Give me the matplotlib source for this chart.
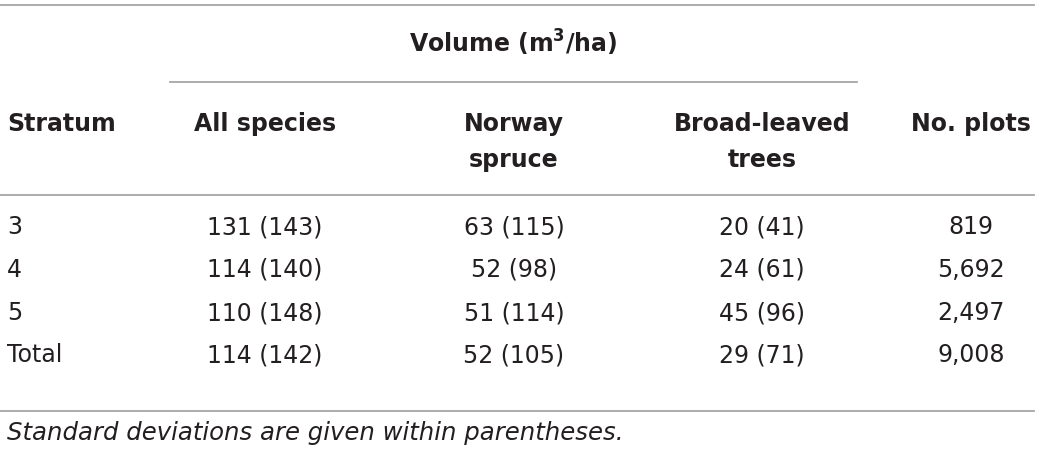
import matplotlib.pyplot as plt

# ---------------------------- table content ----------------------------
strata = ["3", "4", "5", "Total"]
all_species = ["131 (143)", "114 (140)", "110 (148)", "114 (142)"]
norway_spruce = ["63 (115)", "52 (98)", "51 (114)", "52 (105)"]
broad_leaved = ["20 (41)", "24 (61)", "45 (96)", "29 (71)"]
n_plots = ["819", "5,692", "2,497", "9,008"]

group_header = r"Volume (m$^{\mathbf{3}}$/ha)"
col_headers = ["Stratum", "All species", "Norway\nspruce", "Broad-leaved\ntrees", "No. plots"]
footnote = "Standard deviations are given within parentheses."

# ---------------------------- layout (pixels) ----------------------------
W, H = 1040, 459
col_x = [7, 265, 514, 762, 971]
col_ha = ["left", "center", "center", "center", "center"]
row_y = [227, 270, 313, 355]
txt_col = "#231f20"
line_col = "#a6a6a6"
fs = 17

fig = plt.figure(figsize=(W / 100, H / 100), dpi=100)
ax = fig.add_axes([0, 0, 1, 1])
ax.set_xlim(0, W)
ax.set_ylim(H, 0)
ax.axis("off")

# rules
ax.plot([0, 1034], [5, 5], color=line_col, lw=1.3)
ax.plot([170, 857], [82, 82], color=line_col, lw=1.3)
ax.plot([0, 1034], [195, 195], color=line_col, lw=1.3)
ax.plot([0, 1034], [411, 411], color=line_col, lw=1.3)

# headers
ax.text(513, 43, group_header, ha="center", va="center", fontsize=fs,
        fontweight="bold", color=txt_col)
for x, ha, lab in zip(col_x, col_ha, col_headers):
    for i, part in enumerate(lab.split("\n")):
        ax.text(x, 124 + i * 36, part, ha=ha, va="center", fontsize=fs,
                fontweight="bold", color=txt_col)

# body
columns = [strata, all_species, norway_spruce, broad_leaved, n_plots]
for x, ha, vals in zip(col_x, col_ha, columns):
    for y, v in zip(row_y, vals):
        ax.text(x, y, v, ha=ha, va="center", fontsize=fs, color=txt_col)

ax.text(7, 433, footnote, ha="left", va="center", fontsize=17.6,
        style="italic", color=txt_col)

fig.savefig("out.png", dpi=100)
